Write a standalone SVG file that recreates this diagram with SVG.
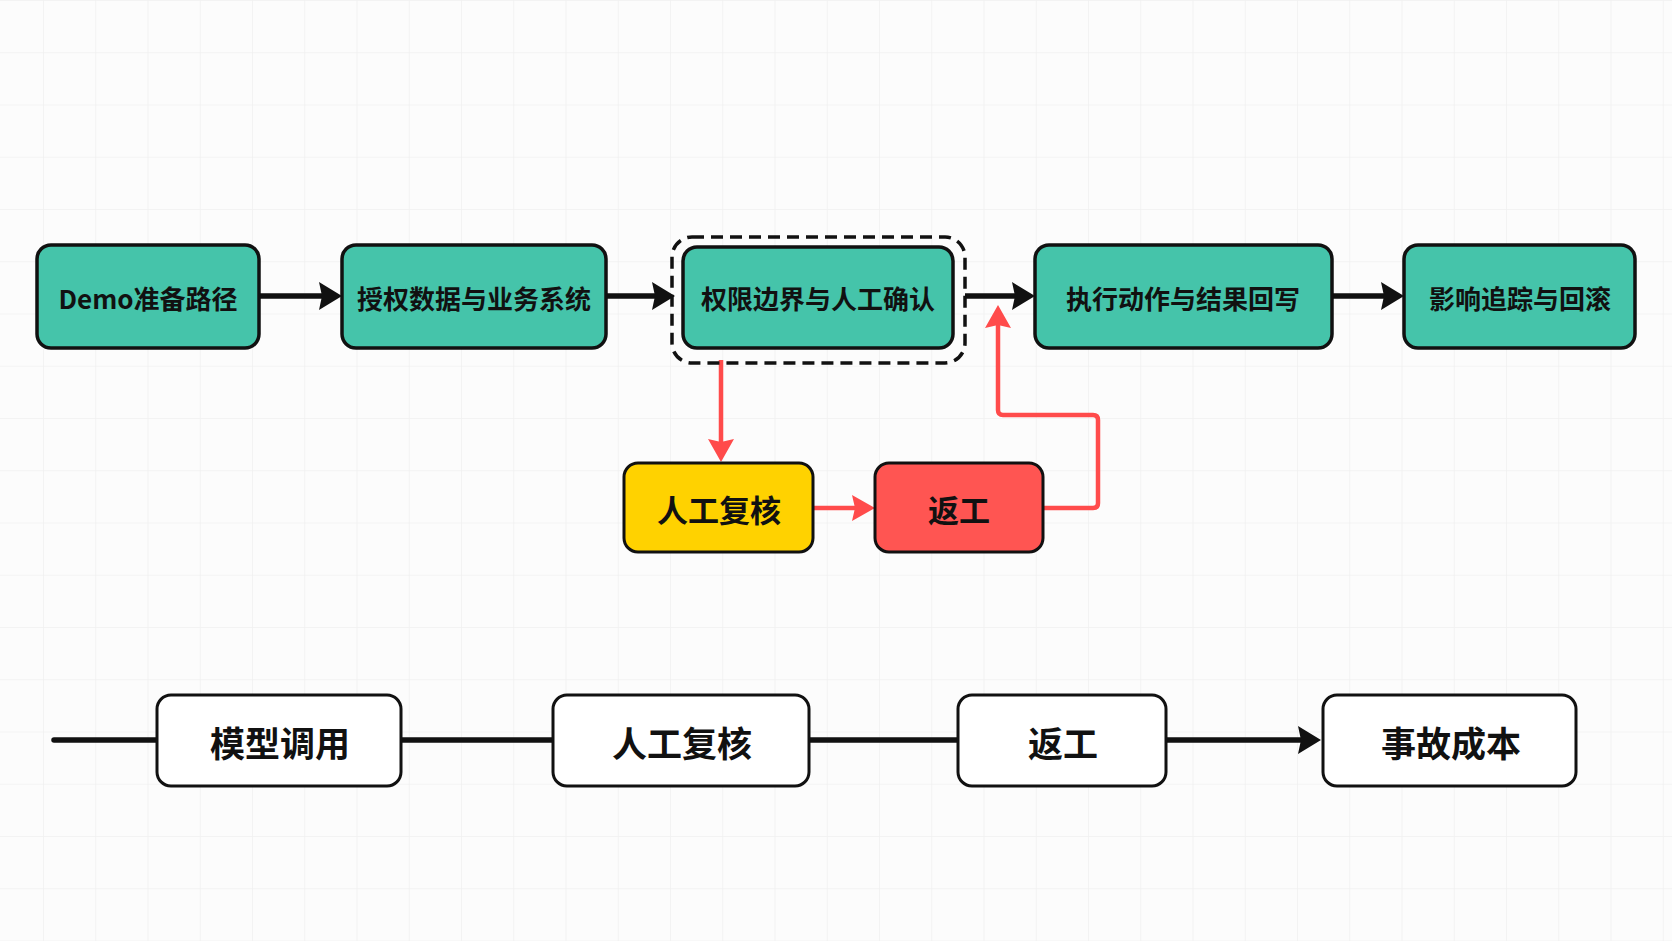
<svg xmlns="http://www.w3.org/2000/svg" width="1672" height="941" viewBox="0 0 1672 941">
<style>
.t{font-family:"Noto Sans CJK SC","Noto Sans",sans-serif;font-weight:700;fill:#111;text-anchor:middle;dominant-baseline:central}
.teal{fill:#45C4AA;stroke:#111;stroke-width:3.5}
.wb{fill:#fff;stroke:#111;stroke-width:3}
.blk{stroke:#111;stroke-width:5.5;fill:none}
.red{stroke:#FF4B4B;stroke-width:4.5;fill:none;stroke-linejoin:round}
</style>
<defs>
<pattern id="grid" x="43" y="0" width="52.25" height="52.25" patternUnits="userSpaceOnUse">
<path d="M0,0 H52.25 M0,0 V52.25" stroke="#F1F1F1" stroke-width="1.6" fill="none"/>
</pattern>
<marker id="ah" markerUnits="userSpaceOnUse" markerWidth="26" markerHeight="30" refX="4" refY="14" orient="auto">
<path d="M0,0 L23,14 L0,28 L3,14 z" fill="#111"/>
</marker>
<marker id="ahr" markerUnits="userSpaceOnUse" markerWidth="26" markerHeight="28" refX="4" refY="13" orient="auto">
<path d="M0,0 L23,13 L0,26 L3,13 z" fill="#FF4B4B"/>
</marker>
</defs>
<rect width="1672" height="941" fill="#FCFCFC"/>
<rect width="1672" height="941" fill="url(#grid)"/>

<g id="connectors">
<path class="blk" d="M259,296 H323" marker-end="url(#ah)"/>
<path class="blk" d="M606,296 H656" marker-end="url(#ah)"/>
<path class="blk" d="M965,296 H1016" marker-end="url(#ah)"/>
<path class="blk" d="M1332,296 H1385" marker-end="url(#ah)"/>
<path class="red" d="M721,360 V443" marker-end="url(#ahr)"/>
<path class="red" d="M813,508 H856" marker-end="url(#ahr)"/>
<path class="red" d="M1043,508 H1093 Q1098,508 1098,503 V420 Q1098,415 1093,415 H1003 Q998,415 998,410 V324" marker-end="url(#ahr)"/>
<path class="blk" stroke-linecap="round" d="M54,740 H157"/>
<path class="blk" d="M401,740 H553"/>
<path class="blk" d="M809,740 H958"/>
<path class="blk" d="M1166,740 H1302" marker-end="url(#ah)"/>
</g>

<g id="node-demo">
<rect class="teal" x="37" y="245" width="222" height="103" rx="14"/>
<text class="t" x="148" y="297" font-size="26">Demo准备路径</text>
</g>
<g id="node-auth">
<rect class="teal" x="342" y="245" width="264" height="103" rx="14"/>
<text class="t" x="474" y="297" font-size="26">授权数据与业务系统</text>
</g>
<g id="node-perm">
<rect x="672" y="237" width="293" height="126" rx="20" fill="none" stroke="#111" stroke-width="3.5" stroke-dasharray="12 7"/>
<rect class="teal" x="683" y="247" width="270" height="101" rx="14"/>
<text class="t" x="818" y="297" font-size="26">权限边界与人工确认</text>
</g>
<g id="node-exec">
<rect class="teal" x="1035" y="245" width="297" height="103" rx="14"/>
<text class="t" x="1183" y="297" font-size="26">执行动作与结果回写</text>
</g>
<g id="node-trace">
<rect class="teal" x="1404" y="245" width="231" height="103" rx="14"/>
<text class="t" x="1520" y="297" font-size="26">影响追踪与回滚</text>
</g>
<g id="node-review">
<rect x="624" y="463" width="189" height="89" rx="14" fill="#FFD200" stroke="#111" stroke-width="3"/>
<text class="t" x="719" y="508" font-size="31">人工复核</text>
</g>
<g id="node-rework">
<rect x="875" y="463" width="168" height="89" rx="14" fill="#FF5552" stroke="#111" stroke-width="3"/>
<text class="t" x="959" y="508" font-size="31">返工</text>
</g>
<g id="node-b1">
<rect class="wb" x="157" y="695" width="244" height="91" rx="14"/>
<text class="t" x="280" y="741" font-size="35">模型调用</text>
</g>
<g id="node-b2">
<rect class="wb" x="553" y="695" width="256" height="91" rx="14"/>
<text class="t" x="682" y="741" font-size="35">人工复核</text>
</g>
<g id="node-b3">
<rect class="wb" x="958" y="695" width="208" height="91" rx="14"/>
<text class="t" x="1063" y="741" font-size="35">返工</text>
</g>
<g id="node-b4">
<rect class="wb" x="1323" y="695" width="253" height="91" rx="14"/>
<text class="t" x="1451" y="741" font-size="35">事故成本</text>
</g>
</svg>
